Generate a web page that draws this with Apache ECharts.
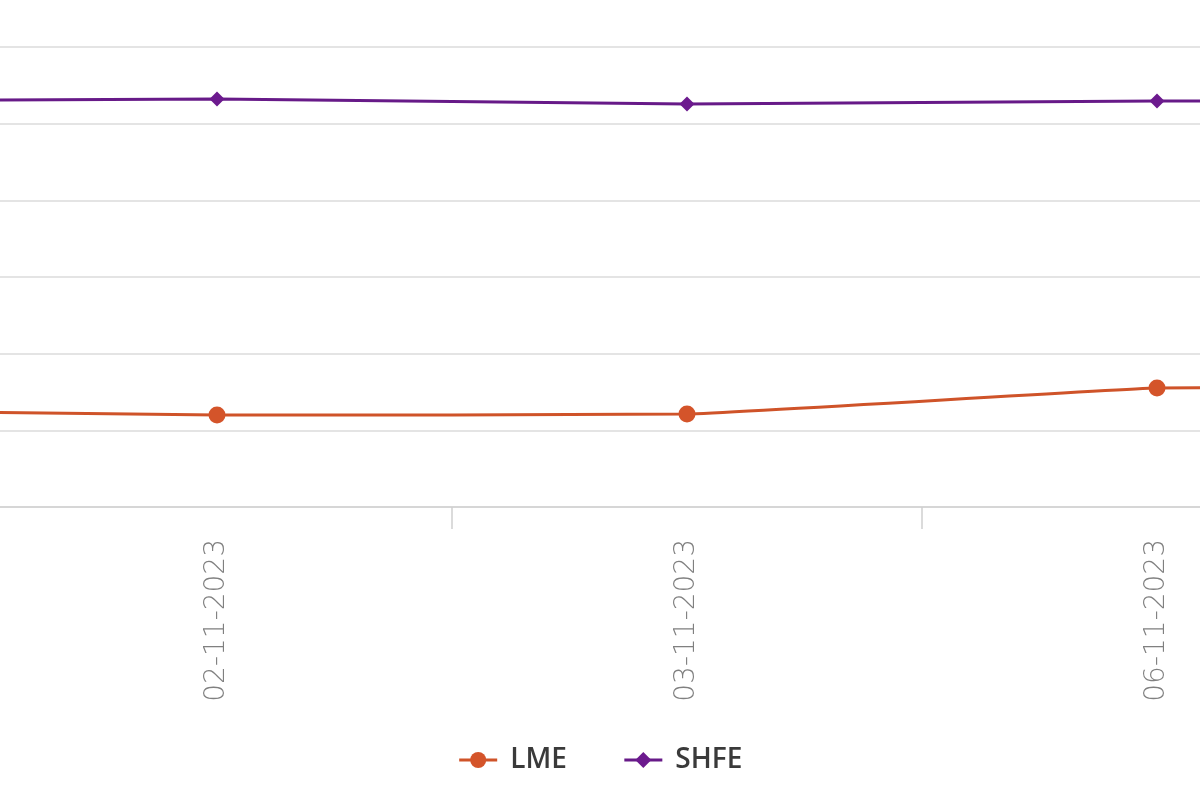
<!DOCTYPE html>
<html lang="en">
<head>
    <meta charset="UTF-8">
    <title>LME vs SHFE</title>
    <script src="https://cdn.jsdelivr.net/npm/echarts@6.0.0/dist/echarts.min.js"></script>
    <style>
        html, body { margin: 0; padding: 0; background: #fff; }
    </style>
</head>
<body>
    <div id="main" style="width: 1200px; height: 800px;"></div>

    <script type="text/javascript">
        // the picture is a crop of a wider chart: one date lies off each side
        let dates = ['01-11-2023', '02-11-2023', '03-11-2023', '06-11-2023', '07-11-2023']
        let lme = [128, 120, 121.3, 155.2, 158]
        let shfe = [529, 532.2, 525.6, 529.5, 531]

        let myChart = echarts.init(document.getElementById('main'))

        let options = {
            animation: false,
            legend: {
                top: 741,
                left: 'center',
                itemWidth: 38,
                itemHeight: 20,
                itemGap: 56,
                lineStyle: {width: 3},
                textStyle: {
                    fontSize: 28,
                    fontWeight: 600,
                    color: '#3a3a3a',
                    fontFamily: 'Open Sans',
                    padding: [0, 0, 0, 8]
                },
                data: ['LME', 'SHFE']
            },
            grid: {
                left: -488,
                right: -662,
                top: 47,
                bottom: 293,
                containLabel: false,
                outerBoundsMode: 'none'
            },
            xAxis: {
                type: 'category',
                data: dates,
                boundaryGap: true,
                axisLine: {lineStyle: {color: '#d6d6d6', width: 2}},
                axisTick: {show: true, interval: 0, length: 22, lineStyle: {color: '#cfcfcf', width: 1.5}},
                axisLabel: {
                    interval: 0,
                    rotate: 90,
                    margin: 32,
                    fontSize: 28,
                    fontWeight: 300,
                    color: '#808080',
                    fontFamily: 'DejaVu Sans'
                }
            },
            yAxis: {
                type: 'value',
                min: 0,
                max: 600,
                interval: 100,
                axisLabel: {show: false},
                axisLine: {show: false},
                axisTick: {show: false},
                splitLine: {lineStyle: {color: '#e4e4e4', width: 2}}
            },
            series: [
                {
                    name: 'LME',
                    type: 'line',
                    data: lme,
                    smooth: 0.1,
                    symbol: 'circle',
                    symbolSize: 17,
                    lineStyle: {width: 3, color: '#cf5329'},
                    itemStyle: {color: '#d4542a'}
                },
                {
                    name: 'SHFE',
                    type: 'line',
                    data: shfe,
                    smooth: 0.1,
                    symbol: 'diamond',
                    symbolSize: 15,
                    lineStyle: {width: 3, color: '#671a88'},
                    itemStyle: {color: '#6c1a8e'}
                }
            ]
        }

        myChart.setOption(options)
    </script>
</body>
</html>
